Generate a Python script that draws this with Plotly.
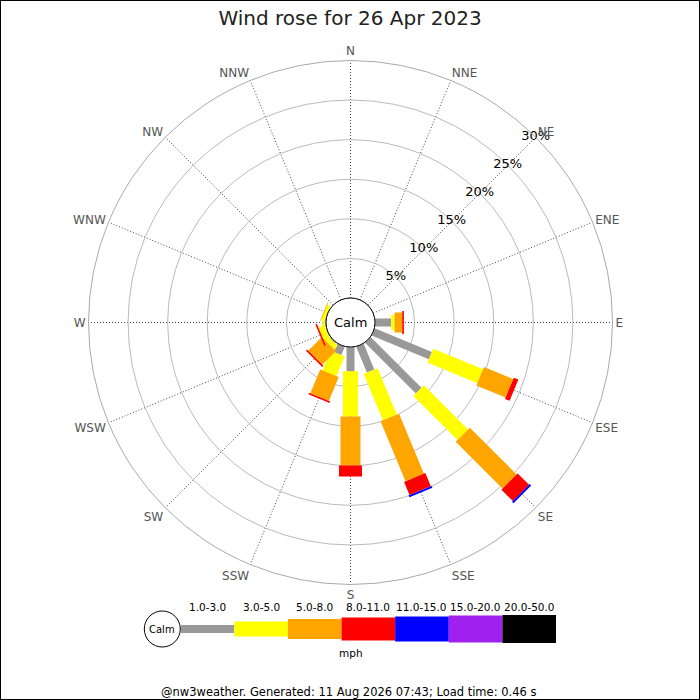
import plotly.graph_objects as go

# ---------------- data ----------------
directions = ["N", "NNE", "NE", "ENE", "E", "ESE", "SE", "SSE",
              "S", "SSW", "SW", "WSW", "W", "WNW", "NW", "NNW"]
direction_deg = [i * 22.5 for i in range(16)]

speed_classes = ["1.0-3.0", "3.0-5.0", "5.0-8.0", "8.0-11.0",
                 "11.0-15.0", "15.0-20.0", "20.0-50.0"]
class_colors = ["#999999", "#ffff00", "#ffa500", "#ff0000",
                "#0000ff", "#a020f0", "#000000"]

# percentage of time per direction per speed class (N .. NNW)
pct_1_3 = [0, 0, 0, 0, 2.05, 7.83, 9.08, 3.54, 3.06, 1.15, 0.15, 0.10, 0.10, 0.05, 0, 0]
pct_3_5 = [0, 0, 0, 0, 0.42, 6.81, 7.88, 6.35, 5.72, 2.70, 0.60, 0.75, 0.35, 0.40, 0, 0]
pct_5_8 = [0, 0, 0, 0, 0.97, 3.99, 8.35, 8.21, 6.19, 3.25, 2.45, 0.05, 0, 0.10, 0, 0]
pct_8_11 = [0, 0, 0, 0, 0.21, 0.63, 2.04, 1.80, 1.39, 0.20, 0.20, 0.20, 0, 0, 0, 0]
pct_11_15 = [0, 0, 0, 0, 0, 0, 0.25, 0.25, 0, 0, 0, 0, 0, 0, 0, 0]
pct_15_20 = [0] * 16
pct_20_50 = [0] * 16
class_values = [pct_1_3, pct_3_5, pct_5_8, pct_8_11, pct_11_15, pct_15_20, pct_20_50]

radial_ticks = [5, 10, 15, 20, 25, 30]
radial_tick_labels = ["5%", "10%", "15%", "20%", "25%", "30%"]

title_text = "Wind rose for 26 Apr 2023"
footer_text = "@nw3weather. Generated: 11 Aug 2026 07:43; Load time: 0.46 s"

# ---------------- style ----------------
W = H = 700
FONT = "DejaVu Sans"
class_widths = [8, 15, 20, 23, 25, 27, 28]
cx, cy, R = 350.5, 322.5, 262      # polar centre / radius (px)
hole_px = 24.5
leg_x0, leg_x1, leg_cy = 180.7, 556, 629
leg_calm_cx, leg_calm_r = 162.3, 18
leg_px_per_unit = 20.0
leg_y_lo, leg_y_hi = -1.2, 1.8

fig = go.Figure()

# stacked radial bars drawn as thick radial segments
cum = [0.0] * 16
for ci, vals in enumerate(class_values):
    rr, tt = [], []
    for di in range(16):
        v = vals[di]
        if v > 0:
            rr += [cum[di], cum[di] + v, None]
            tt += [direction_deg[di], direction_deg[di], None]
            cum[di] += v
    if rr:
        fig.add_trace(go.Scatterpolar(
            r=rr, theta=tt, mode="lines", connectgaps=False,
            line=dict(color=class_colors[ci], width=class_widths[ci]),
            hoverinfo="skip", showlegend=False))

# radial percentage labels along NE
fig.add_trace(go.Scatterpolar(
    r=radial_ticks, theta=[45] * len(radial_ticks), mode="text",
    text=radial_tick_labels, textposition="middle center",
    textfont=dict(family=FONT, size=13, color="#000"),
    cliponaxis=False, hoverinfo="skip", showlegend=False))

# legend strip (cartesian subplot)
for ci in range(len(speed_classes)):
    fig.add_trace(go.Scatter(
        x=[ci, ci + 1], y=[0, 0], mode="lines",
        line=dict(color=class_colors[ci], width=class_widths[ci]),
        xaxis="x", yaxis="y", hoverinfo="skip", showlegend=False))


def px(x):
    return x / W


def py(y):
    return (H - y) / H


def note(text, x, y, size, **kw):
    return dict(text=text, x=x, y=y, showarrow=False, xanchor="center",
                yanchor="middle", font=dict(family=FONT, size=size, color="#000"), **kw)


legend_labels = [note(lab, ci + 0.5, 1.12, 10.5, xref="x", yref="y")
                 for ci, lab in enumerate(speed_classes)]

fig.update_layout(
    width=W, height=H,
    margin=dict(l=0, r=0, t=0, b=0),
    paper_bgcolor="white", plot_bgcolor="white",
    font=dict(family=FONT),
    title=dict(text=title_text, x=0.5, xanchor="center", y=py(18), yanchor="middle",
               font=dict(family=FONT, size=20, color="#222")),
    polar=dict(
        domain=dict(x=[px(cx - R), px(cx + R)], y=[py(cy + R), py(cy - R)]),
        hole=hole_px / R,
        bgcolor="white",
        radialaxis=dict(range=[0, 30], tickvals=radial_ticks, showticklabels=False,
                        ticks="", showline=False, gridcolor="#bbbbbb", gridwidth=1),
        angularaxis=dict(tickmode="array", tickvals=direction_deg, ticktext=directions,
                         rotation=90, direction="clockwise", ticks="",
                         showline=True, linecolor="#aaaaaa", linewidth=1,
                         gridcolor="#444444", griddash="1px,2px", gridwidth=1,
                         tickfont=dict(family=FONT, size=12, color="#555555")),
    ),
    xaxis=dict(domain=[px(leg_x0), px(leg_x1)], range=[0, len(speed_classes)],
               visible=False, fixedrange=True),
    yaxis=dict(domain=[py(leg_cy - leg_y_lo * leg_px_per_unit),
                       py(leg_cy - leg_y_hi * leg_px_per_unit)],
               range=[leg_y_lo, leg_y_hi], visible=False, fixedrange=True),
    shapes=[
        dict(type="circle", xref="paper", yref="paper",
             x0=px(cx - hole_px), x1=px(cx + hole_px),
             y0=py(cy + hole_px), y1=py(cy - hole_px),
             line=dict(color="#000", width=1), fillcolor="white", layer="above"),
        dict(type="circle", xref="paper", yref="paper",
             x0=px(leg_calm_cx - leg_calm_r), x1=px(leg_calm_cx + leg_calm_r),
             y0=py(leg_cy + leg_calm_r), y1=py(leg_cy - leg_calm_r),
             line=dict(color="#000", width=1), fillcolor="white", layer="above"),
        dict(type="rect", xref="paper", yref="paper", x0=0, x1=1, y0=0, y1=1,
             line=dict(color="#000", width=2), layer="above"),
    ],
    annotations=legend_labels + [
        note("Calm", px(cx), py(cy), 13, xref="paper", yref="paper"),
        note("Calm", px(leg_calm_cx), py(leg_cy), 10, xref="paper", yref="paper"),
        note("mph", px(351), py(653), 10.5, xref="paper", yref="paper"),
        note(footer_text, px(348), py(691.5), 11.5, xref="paper", yref="paper"),
    ],
)

fig.write_html(
    "out.html",
    config={"displayModeBar": False},
    post_script="document.body.style.margin='0';document.body.style.overflow='hidden';",
)
